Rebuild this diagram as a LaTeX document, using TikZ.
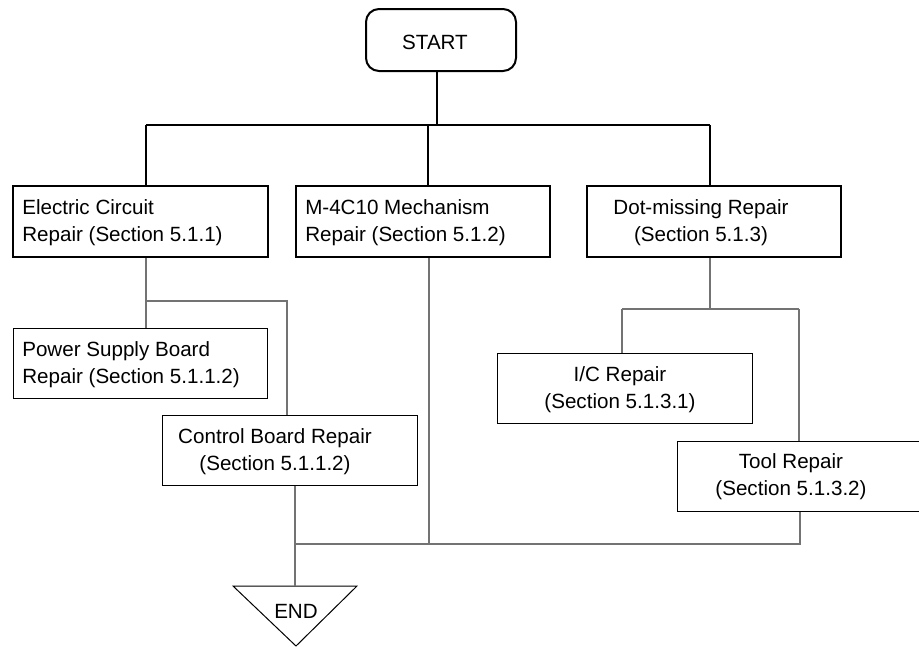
\documentclass[tikz,border=0pt]{standalone}
\usepackage{fontspec}
\setmainfont{Liberation Sans}
\begin{document}
\begin{tikzpicture}[x=0.75pt,y=-0.75pt,
  thickbox/.style={draw=black,line width=1.5pt,rectangle,minimum width=191pt,minimum height=53.25pt,inner sep=0pt},
  thinbox/.style={draw=black,line width=0.75pt,rectangle,minimum width=191pt,minimum height=52.5pt,inner sep=0pt},
  lbl/.style={inner sep=0pt,font=\fontsize{15.45}{20.25}\selectfont},
  thickline/.style={draw=black,line width=1.5pt},
  thinline/.style={draw=black!55,line width=1pt}]
\useasboundingbox (0,0) rectangle (919,646);
% START
\node[draw=black,line width=1.5pt,rounded corners=9.75pt,minimum width=112.5pt,minimum height=46.5pt,inner sep=0pt] (start) at (441,40) {};
\node[lbl] (startt) at (435,42) {START};
% level 1 boxes
\node[thickbox] (b1) at (140.5,221.5) {};
\node[thickbox] (b2) at (423,221.5) {};
\node[thickbox] (b3) at (714,221.5) {};
\node[lbl,anchor=west,align=left] (b1t) at (22,223) {Electric Circuit\\Repair (Section 5.1.1)};
\node[lbl,anchor=west,align=left] (b2t) at (305,223) {M-4C10 Mechanism\\Repair (Section 5.1.2)};
\node[lbl,align=center] (b3t) at (701,223) {Dot-missing Repair\\(Section 5.1.3)};
% level 2 boxes
\node[thinbox] (ps) at (140.5,363) {};
\node[thinbox] (cb) at (290,450) {};
\node[thinbox] (ic) at (625,388) {};
\node[thinbox] (tool) at (805,476) {};
\node[lbl,anchor=west,align=left] (pst) at (22,365) {Power Supply Board\\Repair (Section 5.1.1.2)};
\node[lbl,align=center] (cbt) at (275,452) {Control Board Repair\\(Section 5.1.1.2)};
\node[lbl,align=center] (ict) at (620,390) {I/C Repair\\(Section 5.1.3.1)};
\node[lbl,align=center] (toolt) at (791,477) {Tool Repair\\(Section 5.1.3.2)};
% END
\coordinate (endtop) at (295,586);
\draw[black,line width=0.75pt] (233,586) -- (357,586) -- (296,646) -- cycle;
\node[lbl] (endt) at (296,611) {END};
% thick connectors
\coordinate (t) at (437,125);
\coordinate (tl) at (146,125);
\coordinate (tm) at (428,125);
\coordinate (tr) at (710,125);
\draw[thickline] (start.south -| t) -- (t);
\draw[thickline] (tl) -- (tr);
\draw[thickline] (tl) -- (b1.north -| tl);
\draw[thickline] (tm) -- (b2.north -| tm);
\draw[thickline] (tr) -- (b3.north -| tr);
% thin connectors
\coordinate (j1) at (146,301);
\coordinate (j1r) at (287,301);
\draw[thinline] (b1.south -| j1) -- (ps.north -| j1);
\draw[thinline] (j1) -- (j1r) -- (cb.north -| j1r);
\coordinate (m) at (429,543);
\draw[thinline] (b2.south -| m) -- (m);
\coordinate (bl) at (295,544);
\coordinate (br) at (800,544);
\draw[thinline] (cb.south -| endtop) -- (endtop);
\draw[thinline] (bl) -- (br) -- (tool.south -| br);
\coordinate (j3) at (710,309);
\coordinate (j3l) at (622,309);
\coordinate (j3r) at (799,309);
\draw[thinline] (b3.south -| j3) -- (j3);
\draw[thinline] (j3l) -- (j3r);
\draw[thinline] (j3l) -- (ic.north -| j3l);
\draw[thinline] (j3r) -- (tool.north -| j3r);
\end{tikzpicture}
\end{document}
